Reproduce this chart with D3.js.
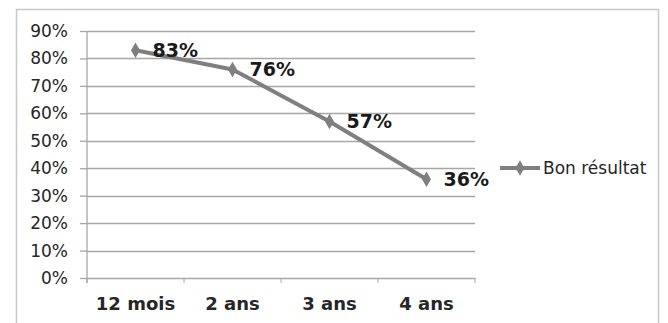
<!DOCTYPE html>
<html>
<head>
<meta charset="utf-8">
<script src="https://cdn.jsdelivr.net/npm/d3@7"></script>
<style>
  body { margin: 0; background: #fff; }
  svg { display: block; font-family: "DejaVu Sans", Verdana, sans-serif; }
</style>
</head>
<body>
<div id="chart"></div>
<script>
// Part de "Bon résultat" par durée de suivi
const categories = ['12 mois', '2 ans', '3 ans', '4 ans'];
const values = [0.83, 0.76, 0.57, 0.36];
const yTicks = [0, 0.1, 0.2, 0.3, 0.4, 0.5, 0.6, 0.7, 0.8, 0.9];
const seriesName = 'Bon résultat';

const width = 668;
const height = 323;
const margin = { top: 31, right: 193, bottom: 45, left: 87 };
const lineColor = '#7f7f7f';

const svg = d3.select('#chart')
    .append('svg')
    .attr('width', width)
    .attr('height', height);

// outer chart frame (bottom edge is cut off in the picture)
svg.append('rect')
    .attr('x', 16.5)
    .attr('y', 9.5)
    .attr('width', 642)
    .attr('height', 330)
    .attr('fill', 'none')
    .attr('stroke', '#c8c8c8')
    .attr('stroke-width', 1.5);

const x = d3.scaleBand()
    .domain(categories)
    .range([margin.left, width - margin.right]);

const y = d3.scaleLinear()
    .domain([0, 0.9])
    .range([height - margin.bottom, margin.top]);

// horizontal grid lines
svg.append('g')
    .selectAll('line')
    .data(yTicks.slice(1))
    .enter()
    .append('line')
    .attr('x1', margin.left)
    .attr('x2', width - margin.right)
    .attr('y1', d => Math.round(y(d)) + 0.5)
    .attr('y2', d => Math.round(y(d)) + 0.5)
    .attr('stroke', '#a6a6a6')
    .attr('stroke-width', 1.3);

// y axis
const yAxis = svg.append('g')
    .attr('transform', `translate(${margin.left},0)`)
    .call(d3.axisLeft(y).tickValues(yTicks).tickFormat(d3.format('.0%')).tickSize(7).tickPadding(12));

// x axis, ticks between the categories
const xAxis = svg.append('g')
    .attr('transform', `translate(0,${height - margin.bottom})`)
    .call(d3.axisBottom(x).tickSize(0).tickPadding(19));

const boundaries = categories.map(c => x(c)).concat([x(categories[categories.length - 1]) + x.bandwidth()]);
xAxis.selectAll('.boundary')
    .data(boundaries)
    .enter()
    .append('line')
    .attr('class', 'boundary')
    .attr('x1', d => d)
    .attr('x2', d => d)
    .attr('y1', 0)
    .attr('y2', 5)
    .attr('stroke', '#a6a6a6');

[yAxis, xAxis].forEach(ax => {
    ax.attr('font-family', null);
    ax.select('.domain').attr('stroke', '#a6a6a6').attr('stroke-width', 1.3);
    ax.selectAll('.tick line').attr('stroke', '#a6a6a6').attr('stroke-width', 1.3);
    ax.selectAll('text').attr('fill', '#262626');
});
yAxis.attr('font-size', 17);
xAxis.attr('font-size', 18).attr('font-weight', 'bold');
yAxis.select('.domain').attr('d', `M0,${margin.top}V${height - margin.bottom + 5}`);

// series line
const line = d3.line()
    .x((d, i) => x(categories[i]) + x.bandwidth() / 2)
    .y(d => y(d));

svg.append('path')
    .datum(values)
    .attr('d', line)
    .attr('fill', 'none')
    .attr('stroke', lineColor)
    .attr('stroke-width', 4)
    .attr('stroke-linejoin', 'round');

const diamond = d3.symbol().type(d3.symbolDiamond).size(70);

svg.append('g')
    .selectAll('path')
    .data(values)
    .enter()
    .append('path')
    .attr('d', diamond)
    .attr('transform', (d, i) => `translate(${x(categories[i]) + x.bandwidth() / 2},${y(d)})`)
    .attr('fill', lineColor);

// data labels
svg.append('g')
    .selectAll('text')
    .data(values)
    .enter()
    .append('text')
    .attr('x', (d, i) => x(categories[i]) + x.bandwidth() / 2 + 17)
    .attr('y', d => y(d))
    .attr('dy', '0.35em')
    .attr('fill', '#1a1a1a')
    .attr('font-size', 19)
    .attr('font-weight', 'bold')
    .text(d => d3.format('.0%')(d));

// legend
const legend = svg.append('g')
    .attr('transform', 'translate(500,168)');

legend.append('line')
    .attr('x1', 0)
    .attr('x2', 40)
    .attr('stroke', lineColor)
    .attr('stroke-width', 4);

legend.append('path')
    .attr('d', diamond)
    .attr('transform', 'translate(20,0)')
    .attr('fill', lineColor);

legend.append('text')
    .attr('x', 43)
    .attr('dy', '0.35em')
    .attr('fill', '#262626')
    .attr('font-size', 17)
    .text(seriesName);
</script>
</body>
</html>
